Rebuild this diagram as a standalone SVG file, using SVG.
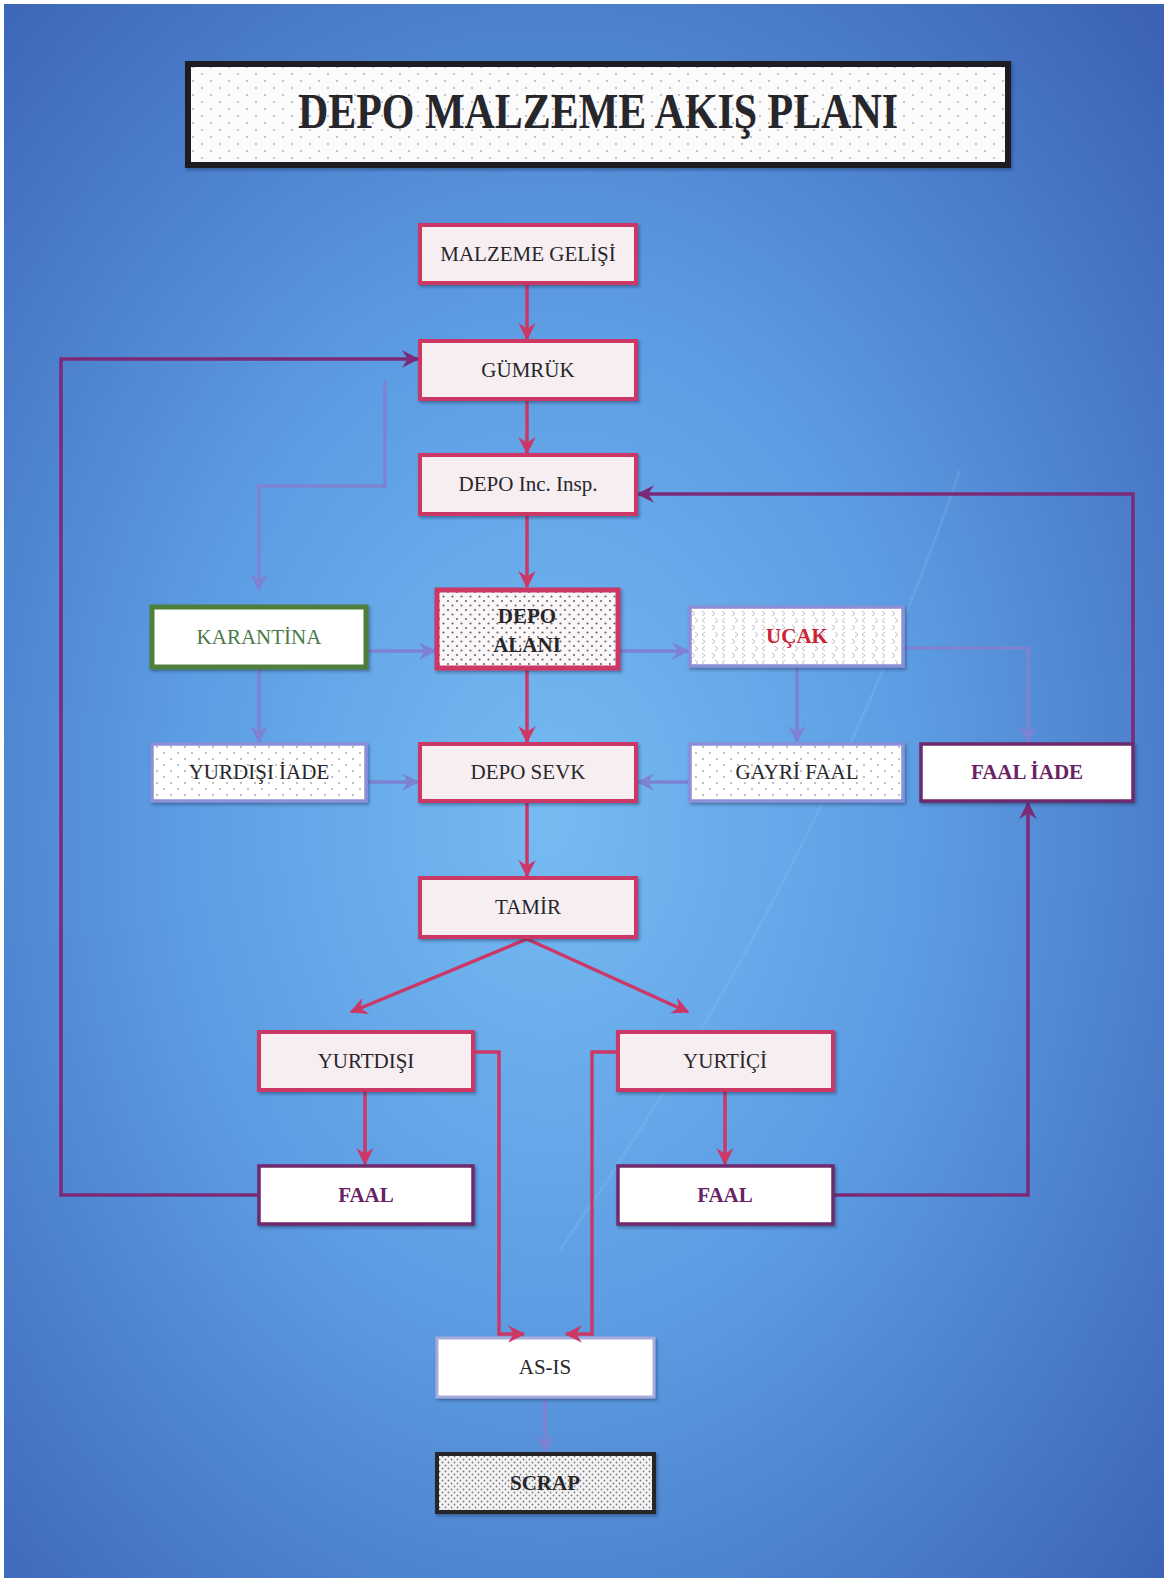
<svg xmlns="http://www.w3.org/2000/svg" width="1173" height="1587" viewBox="0 0 1173 1587">
<defs>
<radialGradient id="bg" cx="0.47" cy="0.52" r="0.72">
<stop offset="0" stop-color="#76bbf2"/>
<stop offset="0.45" stop-color="#5c9ce3"/>
<stop offset="1" stop-color="#3c63b4"/>
</radialGradient>
<filter id="sh" x="-10%" y="-20%" width="130%" height="150%">
<feDropShadow dx="1.5" dy="2" stdDeviation="1.5" flood-color="#1a2a50" flood-opacity="0.45"/>
</filter>
<pattern id="pTitle" width="18" height="14" patternUnits="userSpaceOnUse"><rect width="18" height="14" fill="#fbfbfc"/><circle cx="4" cy="4" r="0.9" fill="#a8a8b0"/><circle cx="13" cy="11" r="0.9" fill="#a8a8b0"/></pattern>
<pattern id="pSparse" width="14" height="12" patternUnits="userSpaceOnUse"><rect width="14" height="12" fill="#ffffff"/><circle cx="3" cy="3" r="0.9" fill="#a0a0a8"/><circle cx="10" cy="9" r="0.9" fill="#a0a0a8"/></pattern>
<pattern id="pDense" width="9" height="9" patternUnits="userSpaceOnUse"><rect width="9" height="9" fill="#fbf6f8"/><circle cx="2.5" cy="2.5" r="1.1" fill="#6a6a70"/><circle cx="7" cy="7" r="1.1" fill="#6a6a70"/></pattern>
<pattern id="pScrap" width="6" height="6" patternUnits="userSpaceOnUse"><rect width="6" height="6" fill="#f4f4f4"/><circle cx="1.5" cy="1.5" r="0.9" fill="#7a7a80"/><circle cx="4.5" cy="4.5" r="0.9" fill="#7a7a80"/></pattern>
<pattern id="pChev" width="20" height="14" patternUnits="userSpaceOnUse"><rect width="20" height="14" fill="#ffffff"/><path d="M5,2 L2,4.5 L5,7 M12,9 L15,11.5 L12,14 M15,2 L18,4.5 L15,7 M2,9 L5,11.5 L2,14" fill="none" stroke="#a8a8c0" stroke-width="0.8"/></pattern>
<marker id="aR" viewBox="0 0 12 12" refX="11" refY="6" markerWidth="5" markerHeight="5" orient="auto" markerUnits="strokeWidth"><path d="M0,0 L12,6 L0,12 L4,6 z" fill="#cc3766"/></marker>
<marker id="aL" viewBox="0 0 12 12" refX="11" refY="6" markerWidth="5" markerHeight="5" orient="auto" markerUnits="strokeWidth"><path d="M0,0 L12,6 L0,12 L4,6 z" fill="#7d82d2"/></marker>
<marker id="aP" viewBox="0 0 12 12" refX="11" refY="6" markerWidth="5" markerHeight="5" orient="auto" markerUnits="strokeWidth"><path d="M0,0 L12,6 L0,12 L4,6 z" fill="#7c2a78"/></marker>
</defs>
<style>
.t{font-family:"Liberation Serif","DejaVu Serif",serif;font-size:21px;fill:#26262b;text-anchor:middle}
.b{font-weight:bold}
.red rect.box{fill:#f7eef2;stroke:#cc3766;stroke-width:4}
.lav rect.box{fill:url(#pSparse);stroke:#8a90d8;stroke-width:3.5}
.pur rect.box{fill:#ffffff;stroke:#6e2a6c;stroke-width:3.5}
.cR{fill:none;stroke:#cc3766;stroke-width:3.5;marker-end:url(#aR)}
.cL{fill:none;stroke:#7d82d2;stroke-width:3.5;marker-end:url(#aL)}
.cP{fill:none;stroke:#7c2a78;stroke-width:3.5;marker-end:url(#aP)}
</style>
<rect width="1173" height="1587" fill="#ffffff"/>
<rect x="4" y="4" width="1160" height="1574" fill="url(#bg)"/>
<path d="M960,470 C860,760 720,1020 560,1250" fill="none" stroke="#a8d6fa" stroke-width="3" opacity="0.15"/>

<g id="title">
<rect x="188" y="64" width="820" height="101" fill="url(#pTitle)" stroke="#1e1e22" stroke-width="6" filter="url(#sh)"/>
<text x="598" y="128" class="t b" style="font-size:50px" textLength="600" lengthAdjust="spacingAndGlyphs">DEPO MALZEME AKIŞ PLANI</text>
</g>

<g id="connectors">
<path class="cR" d="M527,283 V339"/>
<path class="cR" d="M527,399 V453"/>
<path class="cR" d="M527,514 V587"/>
<path class="cR" d="M527,668 V742"/>
<path class="cR" d="M527,801 V876"/>
<path class="cR" d="M527,939 L351,1012"/>
<path class="cR" d="M527,939 L688,1012"/>
<path class="cR" d="M365,1090 V1164"/>
<path class="cR" d="M725,1090 V1164"/>
<path class="cP" d="M259,1195 H61 V359 H418"/>
<path class="cP" d="M833,1195 H1028 V803"/>
<path class="cP" d="M1133,744 V494 H638"/>
<path class="cL" d="M385,380 V486 H259 V590"/>
<path class="cL" d="M366,651 H435"/>
<path class="cL" d="M618,651 H688"/>
<path class="cL" d="M797,666 V742"/>
<path class="cL" d="M903,648 H1028 V742"/>
<path class="cL" d="M259,668 V742"/>
<path class="cL" d="M366,782 H418"/>
<path class="cL" d="M690,782 H638"/>
<path class="cL" d="M545,1397 V1452"/>
</g>

<g id="n-malzeme" class="red"><rect class="box" x="420" y="225" width="216" height="58" filter="url(#sh)"/><text class="t" x="528" y="261">MALZEME GELİŞİ</text></g>
<g id="n-gumruk" class="red"><rect class="box" x="420" y="341" width="216" height="58" filter="url(#sh)"/><text class="t" x="528" y="377">GÜMRÜK</text></g>
<g id="n-depoinc" class="red"><rect class="box" x="420" y="455" width="216" height="59" filter="url(#sh)"/><text class="t" x="528" y="491">DEPO Inc. Insp.</text></g>
<g id="n-depoalani" class="red"><rect class="box" x="437" y="590" width="181" height="78" style="fill:url(#pDense);stroke-width:5" filter="url(#sh)"/><text class="t b" x="527" y="623">DEPO</text><text class="t b" x="527" y="652">ALANI</text></g>
<g id="n-karantina"><rect x="152" y="607" width="214" height="60" fill="#ffffff" stroke="#4f7f3e" stroke-width="5" filter="url(#sh)"/><text class="t" x="259" y="644" style="fill:#4a7a48">KARANTİNA</text></g>
<g id="n-ucak" class="lav"><rect class="box" x="690" y="607" width="213" height="59" style="fill:url(#pChev)" filter="url(#sh)"/><text class="t b" x="797" y="643" style="fill:#cc2233">UÇAK</text></g>
<g id="n-yurdisiiade" class="lav"><rect class="box" x="152" y="744" width="214" height="57" filter="url(#sh)"/><text class="t" x="259" y="779">YURDIŞI İADE</text></g>
<g id="n-deposevk" class="red"><rect class="box" x="420" y="744" width="216" height="57" filter="url(#sh)"/><text class="t" x="528" y="779">DEPO SEVK</text></g>
<g id="n-gayrifaal" class="lav"><rect class="box" x="690" y="744" width="213" height="57" filter="url(#sh)"/><text class="t" x="797" y="779">GAYRİ FAAL</text></g>
<g id="n-faaliade" class="pur"><rect class="box" x="921" y="744" width="212" height="57" filter="url(#sh)"/><text class="t b" x="1027" y="779" style="fill:#6a2266">FAAL İADE</text></g>
<g id="n-tamir" class="red"><rect class="box" x="420" y="878" width="216" height="59" filter="url(#sh)"/><text class="t" x="528" y="914">TAMİR</text></g>
<g id="n-yurtdisi" class="red"><rect class="box" x="259" y="1032" width="214" height="58" filter="url(#sh)"/><text class="t" x="366" y="1068">YURTDIŞI</text></g>
<g id="n-yurtici" class="red"><rect class="box" x="618" y="1032" width="215" height="58" filter="url(#sh)"/><text class="t" x="725" y="1068">YURTİÇİ</text></g>
<g id="n-faal-l" class="pur"><rect class="box" x="259" y="1166" width="214" height="58" filter="url(#sh)"/><text class="t b" x="366" y="1202" style="fill:#6a2266">FAAL</text></g>
<g id="n-faal-r" class="pur"><rect class="box" x="618" y="1166" width="215" height="58" filter="url(#sh)"/><text class="t b" x="725" y="1202" style="fill:#6a2266">FAAL</text></g>
<g id="n-asis"><rect x="437" y="1338" width="217" height="59" fill="#ffffff" stroke="#a8acdc" stroke-width="3" filter="url(#sh)"/><text class="t" x="545" y="1374">AS-IS</text></g>
<g id="n-scrap"><rect x="437" y="1454" width="217" height="58" fill="url(#pScrap)" stroke="#26262a" stroke-width="4" filter="url(#sh)"/><text class="t b" x="545" y="1490">SCRAP</text></g>
<g id="connectors-asis">
<path class="cR" d="M473,1052 H499 V1334 H524"/>
<path class="cR" d="M618,1052 H592 V1334 H566"/>
</g>
</svg>
